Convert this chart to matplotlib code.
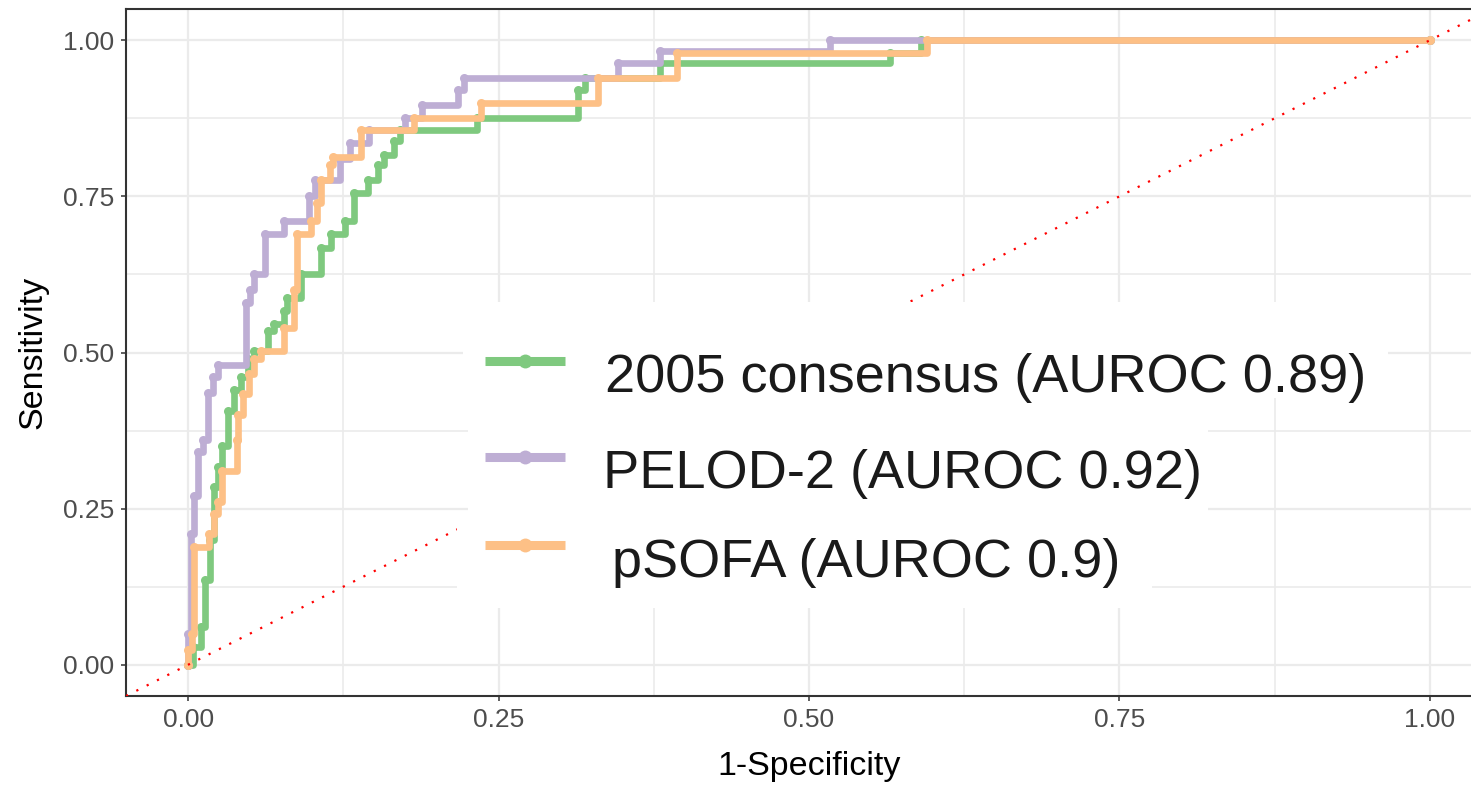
import numpy as np
import matplotlib
matplotlib.use("Agg")
import matplotlib.pyplot as plt
from matplotlib.patches import Rectangle
from matplotlib.lines import Line2D

plt.rcParams['font.family'] = ['Liberation Sans', 'DejaVu Sans']

# ROC staircase vertices (fpr, tpr)
consensus_fpr = [0.0, 0.004, 0.010, 0.014, 0.018, 0.021, 0.024, 0.027, 0.032, 0.037, 0.043,
                 0.048, 0.053, 0.064, 0.069, 0.077, 0.080, 0.091, 0.107, 0.115, 0.126, 0.134,
                 0.145, 0.153, 0.158, 0.166, 0.171, 0.233, 0.314, 0.320, 0.380, 0.565, 0.590, 1.0]
consensus_tpr = [0.0, 0.028, 0.060, 0.135, 0.200, 0.285, 0.316, 0.350, 0.407, 0.440, 0.460,
                 0.490, 0.503, 0.535, 0.546, 0.567, 0.587, 0.626, 0.668, 0.690, 0.710, 0.755,
                 0.776, 0.800, 0.817, 0.838, 0.856, 0.875, 0.920, 0.940, 0.963, 0.980, 1.0, 1.0]

pelod_fpr = [0.0, 0.0, 0.002, 0.005, 0.008, 0.012, 0.016, 0.020, 0.024, 0.047, 0.050, 0.053,
             0.062, 0.077, 0.097, 0.102, 0.122, 0.130, 0.146, 0.175, 0.188, 0.217, 0.222,
             0.346, 0.380, 0.517, 1.0]
pelod_tpr = [0.0, 0.050, 0.210, 0.270, 0.340, 0.360, 0.435, 0.460, 0.480, 0.580, 0.600, 0.625,
             0.690, 0.710, 0.750, 0.776, 0.810, 0.835, 0.856, 0.875, 0.896, 0.920, 0.939,
             0.963, 0.982, 1.0, 1.0]

psofa_fpr = [0.0, 0.0, 0.003, 0.005, 0.017, 0.021, 0.024, 0.027, 0.039, 0.040, 0.044, 0.049,
             0.053, 0.059, 0.077, 0.085, 0.088, 0.099, 0.104, 0.107, 0.114, 0.117, 0.139,
             0.182, 0.236, 0.330, 0.394, 0.595, 1.0]
psofa_tpr = [0.0, 0.023, 0.050, 0.188, 0.210, 0.242, 0.260, 0.310, 0.360, 0.400, 0.434, 0.466,
             0.490, 0.503, 0.540, 0.600, 0.690, 0.710, 0.740, 0.776, 0.800, 0.8125, 0.856,
             0.875, 0.899, 0.939, 0.980, 1.0, 1.0]

labels = ['2005 consensus (AUROC 0.89)', 'PELOD-2 (AUROC 0.92)', 'pSOFA (AUROC 0.9)']
colors = ['#7FC97F', '#BEAED4', '#FDC086']
ticks = [0.0, 0.25, 0.5, 0.75, 1.0]
tick_labels = ['0.00', '0.25', '0.50', '0.75', '1.00']

W, H = 1471, 791
fig = plt.figure(figsize=(W / 100, H / 100), dpi=100)
ax = fig.add_axes([126 / W, (H - 696) / H, 1366 / W, 687 / H])

curves = [(consensus_fpr, consensus_tpr), (pelod_fpr, pelod_tpr), (psofa_fpr, psofa_tpr)]
for (x, y), c in zip(curves, colors):
    # step: move right at current tpr, then rise at next fpr
    xs = np.repeat(x, 2)[1:]
    ys = np.repeat(y, 2)[:-1]
    ax.plot(xs, ys, color=c, lw=4.8, solid_capstyle='butt', zorder=3)
    ax.plot(x, y, 'o', color=c, ms=6.5, mec='none', zorder=3)

ax.axline((0, 0), slope=1, color='red', lw=1.6, ls=(0, (1, 4.2)), zorder=4)

ax.set_xlim(-0.05, 1.05)
ax.set_ylim(-0.05, 1.05)
ax.set_xticks(ticks)
ax.set_xticklabels(tick_labels)
ax.set_yticks(ticks)
ax.set_yticklabels(tick_labels)
ax.set_xticks(np.arange(0.125, 1.0, 0.25), minor=True)
ax.set_yticks(np.arange(0.125, 1.0, 0.25), minor=True)
ax.grid(which='major', color='#EBEBEB', lw=1.6)
ax.grid(which='minor', color='#EBEBEB', lw=1.2)
ax.set_axisbelow(True)
ax.tick_params(which='minor', length=0)
ax.tick_params(which='major', length=3.6, width=1.1, color='#333333',
               labelsize=19, labelcolor='#4D4D4D', pad=5)
for s in ax.spines.values():
    s.set_color('#333333')
    s.set_linewidth(1.5)

ax.set_xlabel('1-Specificity', fontsize=24.5, color='black', labelpad=14)
ax.set_ylabel('Sensitivity', fontsize=24.5, color='black', labelpad=10)

# legend drawn by hand inside the panel (pixel layout from the reference)
def fx(px):
    return px / W

def fy(py):
    return (H - py) / H

rows = [(463, 302, 1388, 398), (468, 398, 1208, 512), (457, 512, 1152, 608)]
for x0, y0, x1, y1 in rows:
    ax.add_patch(Rectangle((fx(x0), fy(y1)), fx(x1) - fx(x0), fy(y0) - fy(y1),
                           transform=fig.transFigure, facecolor='white', edgecolor='none',
                           zorder=5, clip_on=False))

key_y = [361, 457, 545]
text_x = [605, 603, 612]
text_base = [392, 488, 577]
for i in range(3):
    ax.add_line(Line2D([fx(485), fx(565)], [fy(key_y[i]), fy(key_y[i])],
                       transform=fig.transFigure, color=colors[i], lw=6.5,
                       solid_capstyle='butt', zorder=6, clip_on=False))
    ax.add_line(Line2D([fx(525)], [fy(key_y[i])], transform=fig.transFigure,
                       color=colors[i], marker='o', ms=10, mec='none', zorder=6, clip_on=False))
    ax.text(fx(text_x[i]), fy(text_base[i]), labels[i], transform=fig.transFigure,
            fontsize=39, color='#1A1A1A', ha='left', va='baseline', zorder=7)

fig.savefig('out.png', dpi=100)
